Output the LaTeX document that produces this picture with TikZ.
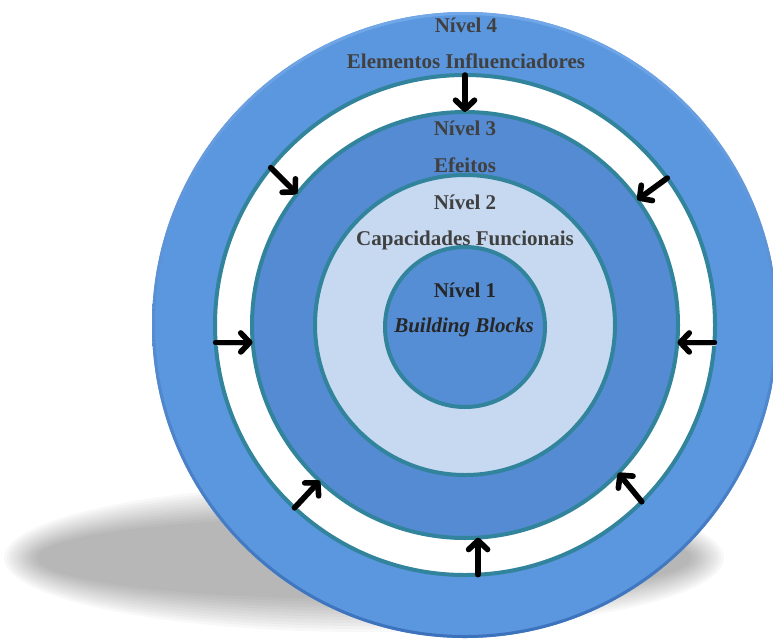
\documentclass[tikz,border=0pt]{standalone}
\usepackage{fontspec}
\setmainfont{Liberation Serif}
\usetikzlibrary{arrows.meta}
\definecolor{ringblue}{HTML}{5B97DF}
\definecolor{effblue}{HTML}{548BD3}
\definecolor{capblue}{HTML}{C6D9F1}
\definecolor{coreblue}{HTML}{558ED5}
\definecolor{rimteal}{HTML}{31849B}
\definecolor{labelgray}{HTML}{404040}
\definecolor{coregray}{HTML}{262626}
\definecolor{rimlight}{HTML}{72A8E8}
\definecolor{rimdark}{HTML}{3C72BB}

\begin{document}
\begin{tikzpicture}[x=1pt,y=-1pt,
  disc/.style={circle, inner sep=0pt, outer sep=0pt, minimum size=#1},
  band/.style={draw=rimteal, line width=4pt},
  lbl/.style={font=\fontsize{21}{25}\selectfont\bfseries, text=labelgray,
              anchor=base, inner sep=0pt},
  push/.style={line width=5.6pt, line cap=round, draw=black,
               -{Straight Barb[length=9pt,width=19pt,line cap=round,line join=round]},
               preaction={draw=black!20, transform canvas={shift={(1.5pt,-2.5pt)}}}}
]
\useasboundingbox (0,0) rectangle (773,641);

% soft ground shadow
\foreach \i in {0,...,11}
  \fill[black, opacity=0.026] (364,558) ellipse [x radius={360-3*\i}, y radius={74-3*\i}];

% level 4 disc with bevelled rim
\node[disc=626pt, fill=ringblue] (outer) at (465,325) {};
\shade[even odd rule, top color=rimlight, bottom color=rimdark]
  (465,325) circle (313) (465,325) circle (310);

% white gap ring, level 3, level 2, level 1
\node[disc=500pt, fill=white, band] (gap) at (465,325) {};
\node[disc=426pt, fill=effblue, band] (eff) at (465,325) {};
\node[disc=300pt, fill=capblue, band] (cap) at (465,325) {};
\node[disc=160pt, fill=coreblue, band] (core) at (465,327) {};

% influence arrows pointing inwards
\draw[push] (gap.90)    -- (eff.90);
\draw[push] (gap.141.6) -- (eff.142.6);
\draw[push] (gap.36.5)  -- (eff.36);
\draw[push] (gap.184)   -- (gap.184 -| eff.184.8);
\draw[push] (gap.-4)    -- (gap.-4 -| eff.-4.8);
\draw[push] (gap.227)   -- (eff.227);
\draw[push] (gap.-45)   -- (eff.-44);
\draw[push] (gap.-87.5) -- (gap.-87.5 |- eff.-87);

% labels
\node[lbl] (n4) at (466,32)  {Nível 4};
\node[lbl] (t4) at (466,68)  {Elementos Influenciadores};
\node[lbl] (n3) at (465,135) {Nível 3};
\node[lbl] (t3) at (465,172) {Efeitos};
\node[lbl] (n2) at (465,209) {Nível 2};
\node[lbl] (t2) at (465,245) {Capacidades Funcionais};
\node[lbl, text=coregray] (n1) at (465,297) {Nível 1};
\node[lbl, text=coregray, font=\fontsize{21}{25}\selectfont\bfseries\itshape] (t1) at (464,332) {Building Blocks};
\end{tikzpicture}
\end{document}
